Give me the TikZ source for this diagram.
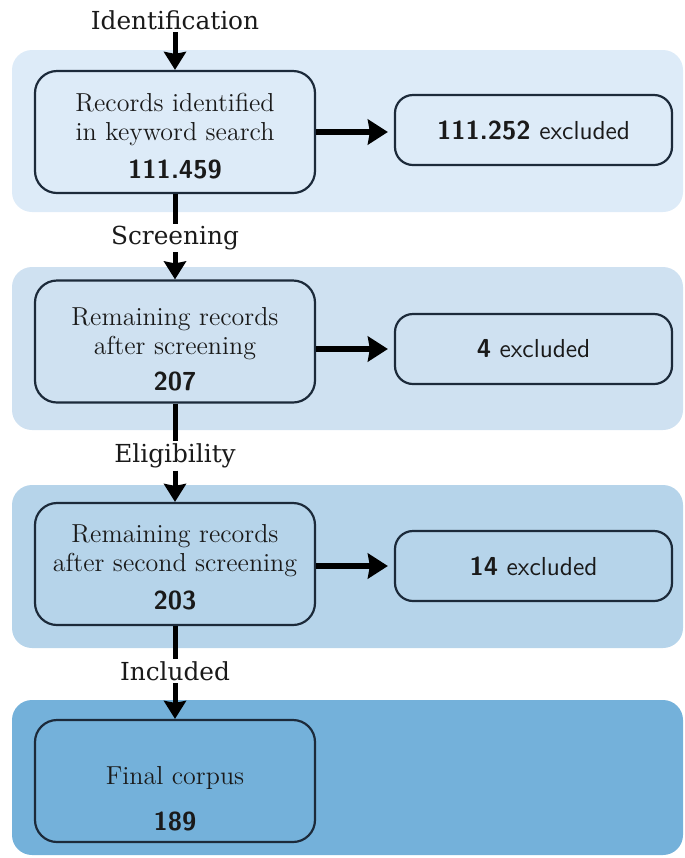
\documentclass[tikz,border=0pt]{standalone}
\usepackage{fontspec}
\newfontfamily\labfont{DejaVu Serif}
\usetikzlibrary{arrows.meta}
\definecolor{bandA}{HTML}{DDEBF8}
\definecolor{bandB}{HTML}{CFE1F1}
\definecolor{bandC}{HTML}{B6D4EA}
\definecolor{bandD}{HTML}{74B1DA}
\definecolor{edge}{HTML}{1C2A3A}
\definecolor{ink}{HTML}{1A1A1A}
\tikzset{
  band/.style={rounded corners=10pt, draw=none},
  mainbox/.style={draw=edge, line width=1.1pt, rounded corners=11pt, minimum width=140pt, minimum height=61pt, inner sep=0pt},
  exbox/.style={draw=edge, line width=1.1pt, rounded corners=9pt, minimum width=138.5pt, minimum height=35pt, inner sep=0pt},
  txt/.style={align=center, text=ink, font=\fontsize{13}{14.5}\selectfont, inner sep=0pt},
  num/.style={text=ink, font=\fontsize{13}{14}\selectfont\sffamily\bfseries, inner sep=0pt},
  stagelab/.style={text=ink, font=\labfont\fontsize{12.4}{14}\selectfont, inner sep=1pt},
  arr/.style={line width=2.5pt, draw=black, -{Stealth[length=9pt,width=11pt,inset=1pt]}},
  harr/.style={line width=3pt, draw=black, -{Stealth[length=10pt,width=12.5pt,inset=1pt]}},
  plainline/.style={line width=2.5pt, draw=black},
}
\begin{document}
\begin{tikzpicture}[x=0.5pt,y=-0.5pt]
\useasboundingbox (0,0) rectangle (685,858);
% bands
\fill[band, fill=bandA] (12,50) rectangle (683,212);
\fill[band, fill=bandB] (12,267) rectangle (683,430);
\fill[band, fill=bandC] (12,485) rectangle (683,648);
\fill[band, fill=bandD] (12,700) rectangle (683,855);
% stage labels
\node[stagelab] (l1) at (175,20) {Identification};
\node[stagelab] (l2) at (175,238) {Screening};
\node[stagelab] (l3) at (175,456) {Eligibility};
\node[stagelab] (l4) at (175,671) {Included};
% main boxes
\node[mainbox, fill=bandA] (b1) at (175,132) {};
\node[mainbox, fill=bandB] (b2) at (175,341.5) {};
\node[mainbox, fill=bandC] (b3) at (175,564) {};
\node[mainbox, fill=bandD] (b4) at (175,781) {};
\node[txt] (t1) at (175,119) {Records identified\\in keyword search};
\node[num] (n1) at (175,169) {111.459};
\node[txt] (t2) at (175,334) {Remaining records\\after screening};
\node[num] (n2) at (175,381) {207};
\node[txt] (t3) at (175,551) {Remaining records\\after second screening};
\node[num] (n3) at (175,600) {203};
\node[txt] (t4) at (175,778) {Final corpus};
\node[num] (n4) at (175,821) {189};
% exclusion boxes
\node[exbox, fill=bandA] (r1) at (533.5,130) {};
\node[exbox, fill=bandB] (r2) at (533.5,349) {};
\node[exbox, fill=bandC] (r3) at (533.5,566) {};
\node[txt] (x1) at (r1) {\sffamily\textbf{111.252} excluded};
\node[txt] (x2) at (r2) {\sffamily\textbf{4} excluded};
\node[txt] (x3) at (r3) {\sffamily\textbf{14} excluded};
% connectors
\draw[arr] (l1.south) -- (b1.north);
\draw[plainline] (b1.south) -- (l2.north);
\draw[arr] (l2.south) -- (b2.north);
\draw[plainline] (b2.south) -- (l3.north);
\draw[arr] (l3.south) -- (b3.north);
\draw[plainline] (b3.south) -- (l4.north);
\draw[arr] (l4.south) -- (b4.north);
\draw[harr, shorten >=3pt] (b1.east) -- (r1.west |- b1.east);
\draw[harr, shorten >=3pt] (b2.east |- r2.west) -- (r2.west);
\draw[harr, shorten >=3pt] (b3.east |- r3.west) -- (r3.west);
\end{tikzpicture}
\end{document}
